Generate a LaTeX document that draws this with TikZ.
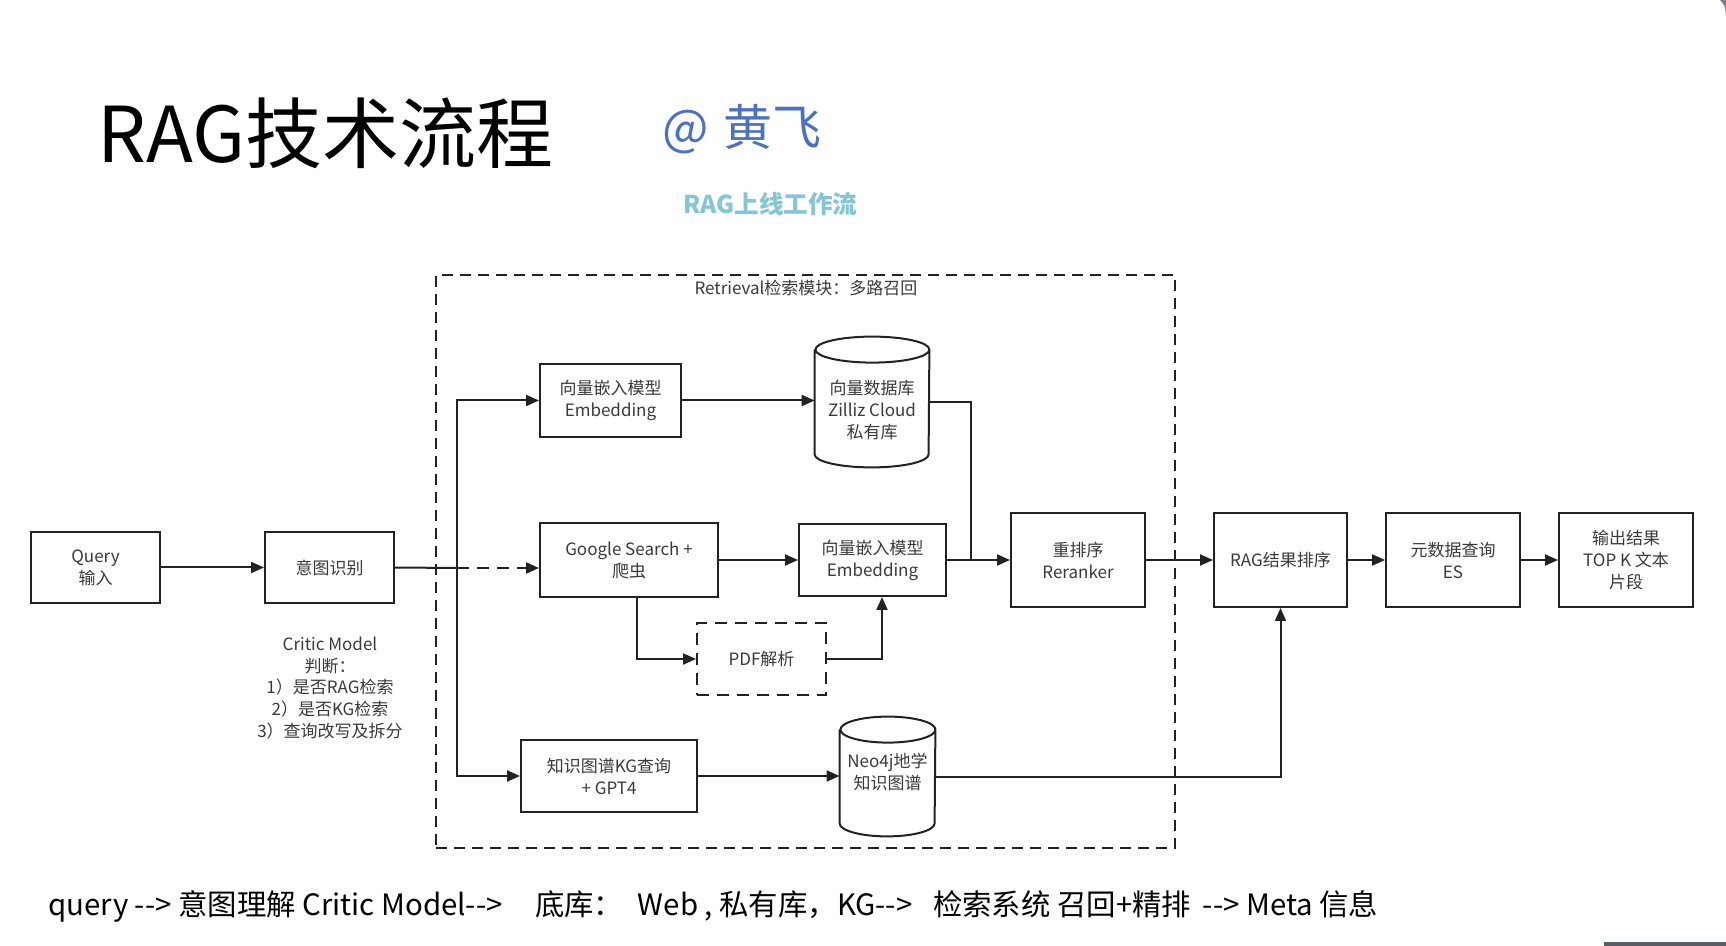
\documentclass[tikz,border=0pt]{standalone}
\usepackage{fontspec}
\setmainfont{Noto Sans CJK SC}
\usetikzlibrary{arrows.meta}
\definecolor{linegray}{HTML}{222222}
\definecolor{txtgray}{HTML}{3A3A3A}
\definecolor{authorblue}{HTML}{4A72C0}
\definecolor{subteal}{HTML}{84C6D4}
\definecolor{framegray}{HTML}{5A5F66}
% arrow text without the TeX dash ligature
\newcommand{\darr}{-\kern0pt-\kern0pt>}
\begin{document}
\begin{tikzpicture}[x=0.5pt,y=-0.5pt,
  every node/.style={font=\fontsize{8.5pt}{11pt}\selectfont, text=txtgray, inner sep=0pt},
  box/.style n args={2}{draw=linegray, line width=1pt, minimum width=#1, minimum height=#2, align=center},
  dbbox/.style n args={2}{minimum width=#1, minimum height=#2},
  link/.style={draw=linegray, line width=1pt},
  flow/.style={link, -{Triangle[length=6.5pt,width=5.5pt]}},
  dashline/.style={dash pattern=on 6pt off 4pt},
  container/.style={draw=linegray, line width=0.8pt, dash pattern=on 5.5pt off 3.5pt}
]
\useasboundingbox (0,0) rectangle (1726,946);
\fill[white] (0,0) rectangle (1726,946);

% window frame remnants
\fill[framegray] (1604,942) rectangle (1726,946);
\fill[framegray!80] (1720,0) -- (1726,0) -- (1726,15) .. controls (1725,6) .. (1720,0);

% headings
\node[anchor=base west, font=\fontsize{38.5pt}{40pt}\selectfont, text=black] (title) at (97,163) {RAG技术流程};
\node[anchor=base west, font=\fontsize{24.5pt}{26pt}\selectfont, text=authorblue] (author) at (662,146) {@\hspace{0.3em}黄飞};
\node[anchor=west, font=\bfseries\fontsize{12.3pt}{14pt}\selectfont, text=subteal] (subtitle) at (683,204) {RAG上线工作流};

% retrieval module frame
\node[container, minimum width=369.5pt, minimum height=286.5pt] (retrieval) at (805.5,561.5) {};
\node (retrlabel) at (806,288) {Retrieval检索模块：多路召回};

% stages
\node[box={64.5pt}{35.5pt}] (query) at (95.5,567.5) {Query\\输入};
\node[box={64.5pt}{35.5pt}] (intent) at (329.5,567.5) {意图识别};
\node[align=center, font=\fontsize{8.5pt}{10.85pt}\selectfont] (critic) at (330,688) {Critic Model\\判断：\\1）是否RAG检索\\2）是否KG检索\\3）查询改写及拆分};

\node[box={70.5pt}{36.5pt}] (emb1) at (610.5,400.5) {向量嵌入模型\\Embedding};
\node[box={89pt}{37pt}] (google) at (629,560) {Google Search +\\爬虫};
\node[box={73.5pt}{36pt}] (emb2) at (872.5,560) {向量嵌入模型\\Embedding};
\node[box={64.5pt}{36pt}, dashline] (pdf) at (761.5,659) {PDF解析};
\node[box={88pt}{36pt}] (kg) at (609,776) {知识图谱KG查询\\+ GPT4};

\node[box={67pt}{47pt}] (rerank) at (1078,560) {重排序\\Reranker};
\node[box={66.5pt}{47pt}] (ragsort) at (1280.5,560) {RAG结果排序};
\node[box={67pt}{47pt}] (meta) at (1453,560) {元数据查询\\ES};
\node[box={67pt}{47pt}] (output) at (1626,560) {输出结果\\TOP K 文本\\片段};

% databases (cylinders)
\node[dbbox={57pt}{65pt}] (vdb) at (872,402) {};
\draw[link] ([yshift=-6.5pt]vdb.north west) -- ([yshift=6.5pt]vdb.south west)
  arc[start angle=180,end angle=360,x radius=28.5pt,y radius=6.5pt]
  -- ([yshift=-6.5pt]vdb.north east)
  arc[start angle=0,end angle=360,x radius=28.5pt,y radius=6.5pt];
\node[align=center] (vdbtext) at ([yshift=-4pt]vdb.center) {向量数据库\\Zilliz Cloud\\私有库};

\node[dbbox={47.5pt}{59.5pt}] (neo) at (887.5,776.5) {};
\draw[link] ([yshift=-6.5pt]neo.north west) -- ([yshift=6.5pt]neo.south west)
  arc[start angle=180,end angle=360,x radius=23.75pt,y radius=6.5pt]
  -- ([yshift=-6.5pt]neo.north east)
  arc[start angle=0,end angle=360,x radius=23.75pt,y radius=6.5pt];
\node[align=center] (neotext) at ([yshift=2.25pt]neo.center) {Neo4j地学\\知识图谱};

% junction points
\coordinate (fork) at (457,568);
\coordinate (merge) at (971,560);

% connectors
\draw[flow] (query) -- (intent);
\draw[link] (intent.east) -- (fork);
\draw[flow] (fork) |- (emb1.west);
\draw[flow] (fork) |- (kg.west);
\draw[flow, dashline] (fork) -- (google.west |- fork);
\draw[flow] (emb1.east) -- (emb1.east -| vdb.west);
\draw[link] (vdb.east) -| (merge);
\draw[flow] (google.east) -- (emb2.west);
\draw[flow] ([xshift=4pt]google.south) |- (pdf.west);
\draw[flow] (pdf.east) -| ([xshift=4.75pt]emb2.south);
\draw[flow] (emb2.east) -- (rerank.west);
\draw[flow] (rerank) -- (ragsort);
\draw[flow] (ragsort) -- (meta);
\draw[flow] (meta) -- (output);
\draw[flow] (kg.east) -- (kg.east -| neo.west);
\draw[flow] (neo.east) -| (ragsort.south);

% summary line
\node[anchor=west, font=\fontsize{14.7pt}{16pt}\selectfont, text=black] (summary) at (48,906)
  {query \darr{} 意图理解 Critic Model\darr\hspace{1.1em}底库：\hspace{0.5em}Web , 私有库，KG\darr\hspace{0.7em}检索系统 召回+精排\hspace{0.4em}\darr{} Meta 信息};
\end{tikzpicture}
\end{document}
